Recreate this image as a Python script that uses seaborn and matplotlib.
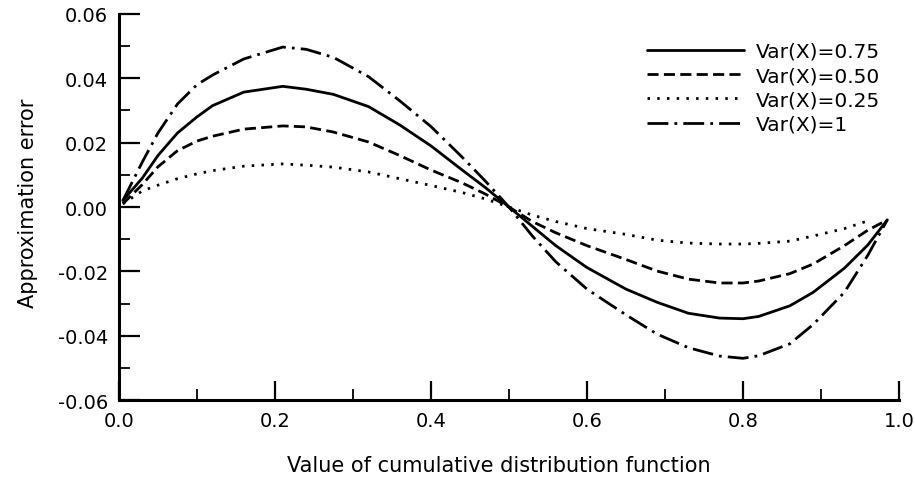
"""
Approximation error vs value of the cumulative distribution function,
for four variances. Values read off the reference figure.
"""

import pandas as pd
import numpy as np
import matplotlib
matplotlib.use("Agg")
import matplotlib.pyplot as plt
from matplotlib.ticker import FormatStrFormatter, MultipleLocator
import seaborn as sns


# ========== Data ==========
cdf_x = [0.005, 0.03, 0.05, 0.075, 0.10, 0.12, 0.16, 0.21, 0.24, 0.275, 0.32,
         0.36, 0.40, 0.44, 0.47, 0.50, 0.53, 0.56, 0.60, 0.65, 0.69, 0.73,
         0.77, 0.80, 0.82, 0.86, 0.89, 0.93, 0.96, 0.985]

err_var_100 = [0.002, 0.014, 0.023, 0.032, 0.038, 0.041, 0.046, 0.0497, 0.049,
               0.0465, 0.0405, 0.033, 0.025, 0.0155, 0.008, 0.0, -0.009, -0.017,
               -0.0255, -0.0335, -0.0395, -0.0437, -0.0463, -0.047, -0.0462,
               -0.0425, -0.0365, -0.0265, -0.015, -0.004]
err_var_075 = [0.002, 0.009, 0.016, 0.023, 0.028, 0.0315, 0.0357, 0.0375,
               0.0366, 0.035, 0.0312, 0.0255, 0.019, 0.0115, 0.006, 0.0, -0.006,
               -0.012, -0.0188, -0.0255, -0.0296, -0.033, -0.0345, -0.0347,
               -0.034, -0.0307, -0.0265, -0.019, -0.0118, -0.004]
err_var_050 = [0.001, 0.007, 0.0125, 0.0175, 0.0205, 0.022, 0.0242, 0.0252,
               0.0249, 0.0233, 0.0202, 0.016, 0.0115, 0.0075, 0.004, 0.0,
               -0.0045, -0.008, -0.012, -0.0163, -0.0199, -0.0224, -0.0236,
               -0.0236, -0.023, -0.0207, -0.0177, -0.012, -0.0072, -0.004]
# dotted curve stops a little earlier (x = 0.96)
err_var_025 = [0.001, 0.005, 0.0068, 0.0088, 0.0103, 0.0113, 0.0127, 0.0134,
               0.013, 0.0124, 0.0109, 0.0088, 0.0067, 0.0045, 0.0025, 0.0,
               -0.0025, -0.0045, -0.0067, -0.0085, -0.0103, -0.0112, -0.0115,
               -0.0115, -0.0113, -0.0106, -0.009, -0.0067, -0.0043]

series_labels = ["Var(X)=0.75", "Var(X)=0.50", "Var(X)=0.25", "Var(X)=1"]
series_values = [err_var_075, err_var_050, err_var_025, err_var_100]

# long form table for seaborn
rows = []
for lab, vals in zip(series_labels, series_values):
    for xv, yv in zip(cdf_x, vals):
        rows.append({"cdf": xv, "error": yv, "series": lab})
df = pd.DataFrame(rows)


# ========== Plot ==========
sns.set_style("ticks")
plt.rcParams["font.family"] = ["DejaVu Sans"]
plt.rcParams["axes.unicode_minus"] = False
# plain black print style
for key in ["text.color", "axes.labelcolor", "axes.edgecolor",
            "xtick.color", "ytick.color"]:
    plt.rcParams[key] = "black"

fig = plt.figure(figsize=(9.15, 4.81), dpi=100)
ax = fig.add_axes([0.130, 0.166, 0.8525, 0.803])

line_dashes = {
    "Var(X)=0.75": "",
    "Var(X)=0.50": (4.0, 1.9),
    "Var(X)=0.25": (0.9, 2.6),
    "Var(X)=1": (7.5, 2.2, 1.0, 2.2),
}

sns.lineplot(
    data=df, x="cdf", y="error", style="series", style_order=series_labels,
    dashes=line_dashes, color="black", linewidth=2.0, sort=True, ax=ax,
)

ax.set_xlim(0, 1.0)
ax.set_ylim(-0.06, 0.06)
ax.xaxis.set_major_locator(MultipleLocator(0.2))
ax.xaxis.set_minor_locator(MultipleLocator(0.1))
ax.yaxis.set_major_locator(MultipleLocator(0.02))
ax.yaxis.set_minor_locator(MultipleLocator(0.01))
ax.xaxis.set_major_formatter(FormatStrFormatter("%.1f"))
ax.yaxis.set_major_formatter(FormatStrFormatter("%.2f"))

ax.tick_params(which="major", direction="in", width=1.6, labelsize=14, pad=8)
ax.tick_params(axis="y", which="major", length=15)
ax.tick_params(axis="x", which="major", length=14)
ax.tick_params(which="minor", direction="in", width=1.3, length=8)

for side in ["top", "right"]:
    ax.spines[side].set_visible(False)
for side in ["left", "bottom"]:
    ax.spines[side].set_linewidth(2.2)

ax.set_xlabel("Value of cumulative distribution function", fontsize=15)
ax.set_ylabel("Approximation error", fontsize=15)
ax.xaxis.set_label_coords(0.487, -0.142)
ax.yaxis.set_label_coords(-0.104, 0.512)

handles, labels = ax.get_legend_handles_labels()
ax.legend(
    handles, labels, loc="upper left", bbox_to_anchor=(647 / 915, 1 - 43 / 481),
    bbox_transform=fig.transFigure, frameon=False, fontsize=14.5,
    handlelength=4.8, handletextpad=0.6, labelspacing=0.26, borderpad=0,
    borderaxespad=0,
)

fig.savefig("out.png", dpi=100)
